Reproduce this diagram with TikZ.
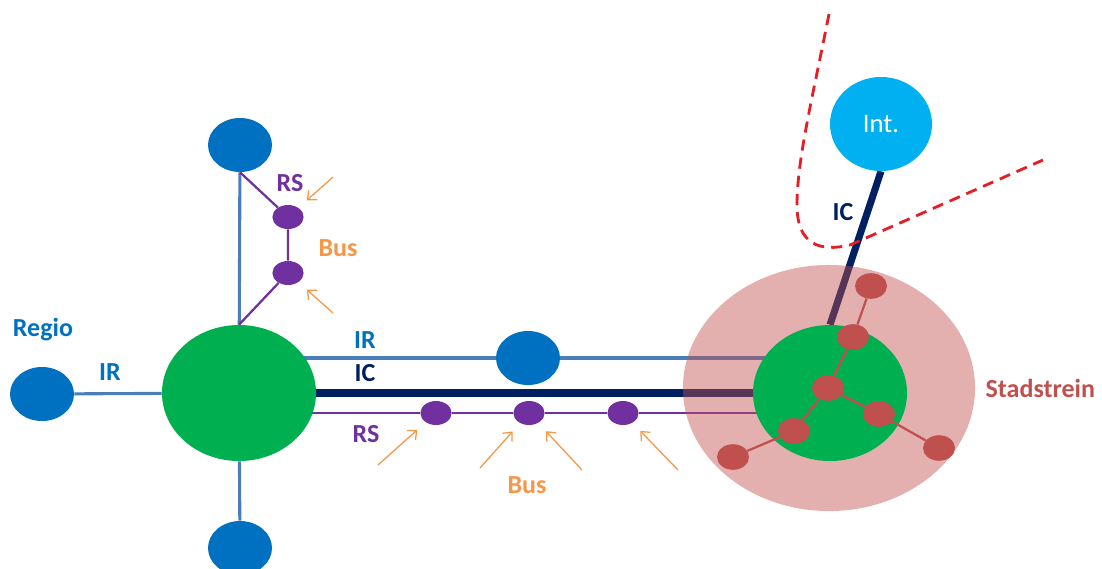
\documentclass[tikz,border=0pt]{standalone}
\usepackage{fontspec}
\setmainfont{Carlito}
\usetikzlibrary{shapes.geometric, positioning, arrows.meta}

\pgfdeclarelayer{back}
\pgfdeclarelayer{tint}
\pgfsetlayers{back,tint,main}

\definecolor{hubgreen}{HTML}{00B050}
\definecolor{regblue}{HTML}{0070C0}
\definecolor{irblue}{HTML}{4A7EBB}
\definecolor{icnavy}{HTML}{002060}
\definecolor{rspurple}{HTML}{7030A0}
\definecolor{busorange}{HTML}{F79646}
\definecolor{cityred}{HTML}{C0504D}
\definecolor{intcyan}{HTML}{00B0F0}
\definecolor{borderred}{HTML}{E31E24}

\begin{document}
\begin{tikzpicture}[
            x=0.025cm, y=-0.025cm,
            hub/.style={ellipse, fill=hubgreen, inner sep=0, minimum width=3.85cm, minimum height=3.4cm},
            station/.style={ellipse, fill=regblue, inner sep=0, minimum width=1.6cm, minimum height=1.35cm},
            stop/.style={ellipse, fill=rspurple, inner sep=0, minimum width=0.78cm, minimum height=0.6cm},
            tram/.style={ellipse, fill=cityred, inner sep=0, minimum width=0.8cm, minimum height=0.64cm},
            lbl/.style={font=\bfseries\fontsize{18.5}{22}\selectfont, inner sep=0},
            irline/.style={draw=irblue, line width=2.2pt},
            icline/.style={draw=icnavy, line width=5pt},
            rsline/.style={draw=rspurple, line width=1.6pt},
            tramline/.style={draw=cityred, line width=1.6pt},
            busarrow/.style={draw=busorange, line width=0.9pt, -{Straight Barb[length=5pt, width=9pt]}, shorten >=8pt}
        ]
        \useasboundingbox (0,0) rectangle (1102,568);

        % Hubs and stations
        \node[hub] (hub) at (239,393) {};
        \node[station] (north) at (240,145) {};
        \node[station] (south) at (240,548) {};
        \node[station] (west) at (42,394) {};
        \node[station] (mid) at (528,358) {};

        \begin{pgfonlayer}{tint}
            \node[ellipse, fill=cityred, fill opacity=0.45, inner sep=0, minimum width=7.3cm, minimum height=6.15cm] (city) at (829,388) {};
        \end{pgfonlayer}
        \node[hub] (centre) at (830,393) {};

        \node[ellipse, fill=intcyan, inner sep=0, minimum width=2.55cm, minimum height=2.35cm,
              text=white, font=\fontsize{19}{22}\selectfont] (int) at (881,124) {Int.};

        % RS stops
        \node[stop] (rs1) at (288,217) {};
        \node[stop] (rs2) at (288,273) {};
        \node[stop] (rs3) at (436,413) {};
        \node[stop] (rs4) at (529,413) {};
        \node[stop] (rs5) at (623,413) {};

        % Tram network
        \node[tram] (t0) at (828,388) {};
        \node[tram] (t1) at (853,337) {};
        \node[tram] (t2) at (871,286) {};
        \node[tram] (t3) at (879,414) {};
        \node[tram] (t4) at (939,448) {};
        \node[tram] (t5) at (794,431) {};
        \node[tram] (t6) at (733,457) {};
        \draw[tramline] (t0) -- (t1) -- (t2);
        \draw[tramline] (t0) -- (t3) -- (t4);
        \draw[tramline] (t0) -- (t5) -- (t6);

        % Lines
        \begin{pgfonlayer}{back}
            \draw[irline] (west) -- (hub);
            \draw[irline] (north) -- (hub);
            \draw[irline] (hub) -- (south);
            \draw[irline] (hub.center |- mid) -- (mid) -- (centre.center |- mid);
            \draw[icline] (hub) -- (centre);
            \draw[icline] (centre.north) -- (int.south);
            \draw[rsline] (hub.center |- rs3) -- (rs3) -- (rs4) -- (rs5) -- (centre.center |- rs5);
        \end{pgfonlayer}
        \draw[rsline] (north.south) -- (rs1) -- (rs2) -- (hub.north);

        % Bus feeders
        \foreach \tx/\ty/\target in {333/177/rs1, 333/313/rs2, 378/465/rs3, 480/468/rs4, 582/470/rs4, 678/470/rs5}
            \draw[busarrow] (\tx,\ty) -- (\target);

        % Labels
        \node[lbl, text=regblue] (regio) at (43,330) {Regio};
        \node[lbl, text=regblue] at (110,372) {IR};
        \node[lbl, text=regblue] at (365,340) {IR};
        \node[lbl, text=icnavy] at (365,373) {IC};
        \node[lbl, text=rspurple] at (366,434) {RS};
        \node[lbl, text=rspurple] at (290,183) {RS};
        \node[lbl, text=busorange] at (338,248) {Bus};
        \node[lbl, text=busorange] at (527,485) {Bus};
        \node[lbl, text=icnavy] at (843,212) {IC};
        \node[lbl, text=cityred, right=0.25cm of city] {Stadstrein};

        % Border
        \draw[borderred, line width=2pt, dash pattern=on 8pt off 5pt]
            (829,14) .. controls (812,100) and (797,160) .. (797,205)
            .. controls (797,245) and (820,252) .. (850,245) -- (1043,160);
    \end{tikzpicture}
\end{document}
